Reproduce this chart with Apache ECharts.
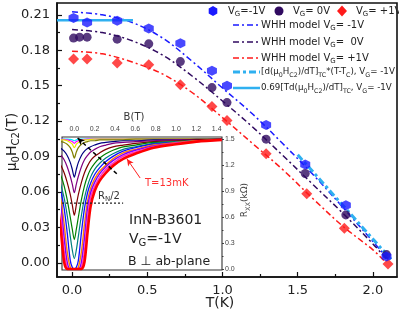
<!DOCTYPE html>
<html><head><meta charset="utf-8">
<script src="https://cdn.jsdelivr.net/npm/echarts@6/dist/echarts.min.js"></script>
<style>html,body{margin:0;padding:0;background:#fff}#c{width:399px;height:318px}</style>
</head><body><div id="c"></div>
<script>
// ---------- main panel data ----------
const blueT   = [0.01, 0.10, 0.30, 0.51, 0.72, 0.93, 1.03, 1.29, 1.55, 1.82, 2.09];
const blueH   = [0.2072, 0.2035, 0.2049, 0.1984, 0.1860, 0.1626, 0.1500, 0.1168, 0.0832, 0.0487, 0.0053];
const purpleT = [0.01, 0.05, 0.10, 0.30, 0.51, 0.72, 0.93, 1.03, 1.29, 1.55, 1.82, 2.09];
const purpleH = [0.1903, 0.1911, 0.1911, 0.1894, 0.1854, 0.1704, 0.1484, 0.1357, 0.1047, 0.0756, 0.0406, 0.0070];
const redT    = [0.01, 0.10, 0.30, 0.51, 0.72, 0.93, 1.03, 1.29, 1.56, 1.81, 2.10];
const redH    = [0.1725, 0.1725, 0.1691, 0.1677, 0.1507, 0.1323, 0.1205, 0.0923, 0.0584, 0.0292, -0.0010];

const whhBlueT   = [0.0, 0.2, 0.4, 0.6, 0.8, 1.0, 1.2, 1.4, 1.6, 1.8, 2.0, 2.11];
const whhBlueH   = [0.2125, 0.2100, 0.2035, 0.1905, 0.1705, 0.1480, 0.1260, 0.1010, 0.0750, 0.0470, 0.0180, 0.0020];
const whhPurpleT = [0.0, 0.2, 0.4, 0.6, 0.8, 1.0, 1.2, 1.4, 1.6, 1.8, 2.0, 2.10];
const whhPurpleH = [0.1975, 0.1950, 0.1880, 0.1760, 0.1580, 0.1370, 0.1150, 0.0910, 0.0665, 0.0420, 0.0160, 0.0020];
const whhRedT    = [0.0, 0.2, 0.4, 0.6, 0.8, 1.0, 1.2, 1.4, 1.6, 1.8, 2.0, 2.08];
const whhRedH    = [0.1792, 0.1770, 0.1700, 0.1600, 0.1440, 0.1230, 0.1010, 0.0790, 0.0545, 0.0310, 0.0110, 0.0010];

const slopeT = [1.50, 2.12];
const slopeH = [0.0915, 0.0030];
const flatT  = [-0.10, 0.405];
const flatH  = [0.2055, 0.2055];

const xTicks = [0, 0.5, 1.0, 1.5, 2.0];
const xMinor = [0.25, 0.75, 1.25, 1.75];
const yTicks = [0, 0.03, 0.06, 0.09, 0.12, 0.15, 0.18, 0.21];
const yMinor = [0.015, 0.045, 0.075, 0.105, 0.135, 0.165, 0.195];

// ---------- inset data ----------
const insetB = [-0.16,-0.13,-0.10,-0.07,-0.04,-0.02,0,0.02,0.04,0.07,0.10,0.13,0.16,0.20,0.25,0.31,0.38,0.48,0.60,0.78,1.00,1.20,1.45];
const rCyan    = [1.50,1.50,1.50,1.50,1.495,1.49,1.48,1.49,1.495,1.50,1.50,1.50,1.50,1.50,1.50,1.50,1.50,1.50,1.50,1.50,1.50,1.50,1.50];
const rMagenta = [1.50,1.50,1.495,1.49,1.48,1.47,1.45,1.47,1.48,1.49,1.495,1.50,1.50,1.50,1.50,1.50,1.50,1.50,1.50,1.50,1.50,1.50,1.50];
const rYellow  = [1.495,1.49,1.49,1.48,1.46,1.44,1.40,1.44,1.46,1.48,1.49,1.49,1.495,1.50,1.50,1.50,1.50,1.50,1.50,1.50,1.50,1.50,1.50];
const rOlive   = [1.48,1.47,1.46,1.44,1.40,1.35,1.28,1.35,1.40,1.44,1.46,1.47,1.48,1.48,1.49,1.49,1.49,1.49,1.50,1.50,1.50,1.50,1.50];
const rNavy    = [1.41,1.39,1.36,1.31,1.23,1.15,1.06,1.15,1.23,1.31,1.36,1.39,1.41,1.43,1.45,1.46,1.47,1.48,1.48,1.49,1.49,1.495,1.50];
const rPurple  = [1.35,1.31,1.26,1.18,1.07,0.98,0.88,0.98,1.07,1.18,1.26,1.31,1.35,1.38,1.41,1.43,1.45,1.46,1.47,1.48,1.49,1.49,1.495];
const rWine    = [1.25,1.19,1.11,1.00,0.86,0.74,0.62,0.74,0.86,1.00,1.11,1.19,1.25,1.30,1.34,1.38,1.41,1.43,1.45,1.47,1.48,1.49,1.495];
const rGreen   = [1.15,1.07,0.96,0.80,0.60,0.46,0.34,0.46,0.60,0.80,0.96,1.07,1.15,1.22,1.28,1.33,1.37,1.41,1.43,1.46,1.47,1.48,1.49];
const rTeal    = [1.06,0.96,0.82,0.62,0.38,0.22,0.12,0.22,0.38,0.62,0.82,0.96,1.06,1.15,1.22,1.28,1.33,1.38,1.41,1.45,1.47,1.48,1.49];
const rBlue    = [0.99,0.88,0.70,0.42,0.10,0.02,0,0.02,0.10,0.42,0.70,0.88,0.99,1.09,1.17,1.24,1.30,1.36,1.40,1.44,1.46,1.48,1.49];
const rOrange  = [0.93,0.78,0.52,0.20,0.02,0,0,0,0.02,0.20,0.52,0.78,0.93,1.04,1.13,1.20,1.27,1.34,1.38,1.43,1.46,1.48,1.49];
const rViolet  = [0.88,0.70,0.36,0.08,0,0,0,0,0,0.08,0.36,0.70,0.88,1.00,1.10,1.18,1.25,1.32,1.37,1.42,1.45,1.47,1.49];
const rPink    = [0.82,0.58,0.20,0.02,0,0,0,0,0,0.02,0.20,0.58,0.82,0.95,1.06,1.15,1.22,1.30,1.35,1.41,1.45,1.47,1.49];
const rRed     = [0.72,0.42,0.08,0,0,0,0,0,0,0,0.08,0.42,0.72,0.90,1.02,1.11,1.19,1.27,1.33,1.40,1.44,1.47,1.49];

const rnHalfB = [-0.121, 0.48];
const rnHalfR = [0.76, 0.76];
const guideB  = [0.033, 0.43];
const guideR  = [1.511, 1.085];
const arrowB  = [0.518, 0.647];
const arrowR  = [1.27, 1.05];

const bTicks = [0, 0.2, 0.4, 0.6, 0.8, 1.0, 1.2, 1.4];
const rTicks = [0, 0.3, 0.6, 0.9, 1.2, 1.5];
const rMinor = [0.15, 0.45, 0.75, 1.05, 1.35];

// ---------- build ----------
const F = 'DejaVu Sans';
const zip = (a, b) => a.map((v, i) => [v, b[i]]);
const chart = echarts.init(document.getElementById('c'), null, {renderer: 'canvas'});

const dashDot = [6, 3, 2, 3];
const LB = '#2fb0f0';
const hex = 'path://M0,-10 L8.66,-5 L8.66,5 L0,10 L-8.66,5 L-8.66,-5 Z';

const insetCurves = [
  [rCyan, '#00e8ff', 1.2], [rMagenta, '#ff00ff', 1.2], [rYellow, '#e8e800', 1.2],
  [rOlive, '#808000', 1.2], [rNavy, '#000080', 1.2], [rPurple, '#800080', 1.2],
  [rWine, '#800000', 1.2], [rGreen, '#008000', 1.2], [rTeal, '#008080', 1.2],
  [rBlue, '#1010ff', 1.3], [rOrange, '#ff8000', 1.4], [rViolet, '#8000ff', 1.5],
  [rPink, '#ff30c0', 1.6], [rRed, '#ff0000', 2.6]
];

const series = [];
const mainLine = (x, y, color, width, type) => ({
  type: 'line', xAxisIndex: 0, yAxisIndex: 0, data: zip(x, y), smooth: 0.35,
  showSymbol: false, symbol: 'none', z: 3, silent: true,
  lineStyle: {color, width, type}
});
series.push(mainLine(whhBlueT, whhBlueH, '#1a1aff', 1.5, dashDot));
series.push(mainLine(whhPurpleT, whhPurpleH, '#300a60', 1.5, dashDot));
series.push(mainLine(whhRedT, whhRedH, '#ff1a1a', 1.5, dashDot));
series.push(mainLine(slopeT, slopeH, LB, 3, [7, 3, 3, 3]));
series.push(mainLine(flatT, flatH, LB, 2.5, 'solid'));

const scat = (x, y, color, symbol, size) => ({
  type: 'scatter', xAxisIndex: 0, yAxisIndex: 0, data: zip(x, y), symbol, symbolSize: size,
  itemStyle: {color}, z: 5, silent: true
});
series.push(scat(redT, redH, '#ff1a1a', 'diamond', 11));
series.push(scat(purpleT, purpleH, '#300a60', 'circle', 9));
series.push(scat(blueT, blueH, '#1a1aff', hex, 10));

insetCurves.forEach(([arr, color, w]) => {
  series.push({type: 'line', xAxisIndex: 2, yAxisIndex: 2, data: zip(insetB, arr), smooth: 0.3,
    showSymbol: false, symbol: 'none', z: 6, silent: true, lineStyle: {color, width: w}});
});
series.push({type: 'line', xAxisIndex: 2, yAxisIndex: 2, data: zip(rnHalfB, rnHalfR), showSymbol: false, symbol: 'none',
  z: 7, silent: true, lineStyle: {color: '#222', width: 1.3, type: [2, 2]}});
const gd = zip(guideB, guideR);
series.push({type: 'line', xAxisIndex: 2, yAxisIndex: 2, z: 8, silent: true,
  data: [{value: gd[0], symbol: 'arrow', symbolSize: [5, 7], symbolRotate: 47}, {value: gd[1], symbol: 'none'}],
  showSymbol: true, itemStyle: {color: '#000'}, lineStyle: {color: '#000', width: 1.5, type: [4, 3]}});
const ad = zip(arrowB, arrowR);
series.push({type: 'line', xAxisIndex: 2, yAxisIndex: 2, z: 8, silent: true,
  data: [{value: ad[0], symbol: 'arrow', symbolSize: [5, 7], symbolRotate: 34}, {value: ad[1], symbol: 'none'}],
  showSymbol: true, itemStyle: {color: '#ff2020'}, lineStyle: {color: '#ff2020', width: 1}});

const rich = (fs, ss, col) => ({
  n: {fontSize: fs, lineHeight: fs + 4, fontFamily: F, fill: col},
  s: {fontSize: ss, lineHeight: ss, verticalAlign: 'bottom', fontFamily: F, fill: col}
});
const rtext = (x, y, text, fs, ss, col, extra) => Object.assign({
  type: 'text', x, y, z: 20, silent: true,
  style: {text, rich: rich(fs, ss, col), align: 'left', verticalAlign: 'middle'}
}, extra || {});

const graphic = [
  // legend row 1
  {type: 'polygon', z: 20, shape: {points: [[213,6],[217.3,8.5],[217.3,13.5],[213,16],[208.7,13.5],[208.7,8.5]]}, style: {fill: '#1a1aff'}},
  rtext(228, 11, '{n|V}{s|G}{n|=-1V}', 10, 7, '#222'),
  {type: 'circle', z: 20, shape: {cx: 279, cy: 11, r: 4.5}, style: {fill: '#300a60'}},
  rtext(293, 11, '{n|V}{s|G}{n|= 0V}', 10, 7, '#222'),
  {type: 'polygon', z: 20, shape: {points: [[342,5.5],[347,11],[342,16.5],[337,11]]}, style: {fill: '#ff1a1a'}},
  rtext(356, 11, '{n|V}{s|G}{n|= +1V}', 10, 7, '#222'),
  // legend lines
  {type: 'line', z: 20, shape: {x1: 233, y1: 25, x2: 260, y2: 25}, style: {stroke: '#1a1aff', lineWidth: 1.5, lineDash: dashDot}},
  rtext(261, 25, '{n|WHH model V}{s|G}{n|= -1V}', 10, 7, '#222'),
  {type: 'line', z: 20, shape: {x1: 233, y1: 42, x2: 260, y2: 42}, style: {stroke: '#300a60', lineWidth: 1.5, lineDash: dashDot}},
  rtext(261, 42, '{n|WHH model V}{s|G}{n|=  0V}', 10, 7, '#222'),
  {type: 'line', z: 20, shape: {x1: 233, y1: 58, x2: 260, y2: 58}, style: {stroke: '#ff1a1a', lineWidth: 1.5, lineDash: dashDot}},
  rtext(261, 58, '{n|WHH model V}{s|G}{n|= +1V}', 10, 7, '#222'),
  {type: 'line', z: 20, shape: {x1: 233, y1: 72, x2: 260, y2: 72}, style: {stroke: LB, lineWidth: 3, lineDash: [7, 3, 3, 3]}},
  rtext(261, 72, '{n|[d(μ}{s|0}{n|H}{s|C2}{n|)/dT]}{s|TC}{n|*(T-T}{s|C}{n|), V}{s|G}{n|= -1V}', 8.7, 6.3, '#222'),
  {type: 'line', z: 20, shape: {x1: 233, y1: 88, x2: 260, y2: 88}, style: {stroke: LB, lineWidth: 2.5}},
  rtext(261, 88, '{n|0.69[Td(μ}{s|0}{n|H}{s|C2}{n|)/dT]}{s|TC}{n|, V}{s|G}{n|= -1V}', 8.7, 6.3, '#222'),
  // axis titles
  {type: 'text', x: 220, y: 303, z: 20, style: {text: 'T(K)', font: '14px ' + F, fill: '#222', align: 'center', verticalAlign: 'middle'}},
  {type: 'text', x: 12, y: 142, z: 20, rotation: Math.PI / 2,
    style: {text: '{n|μ}{s|0}{n|H}{s|C2}{n|(T)}', rich: rich(14, 10, '#222'), align: 'center', verticalAlign: 'middle'}},
  {type: 'text', x: 134, y: 117, z: 20, style: {text: 'B(T)', font: '10px ' + F, fill: '#333', align: 'center', verticalAlign: 'middle'}},
  {type: 'text', x: 245, y: 200, z: 20, rotation: Math.PI / 2,
    style: {text: '{n|R}{s|XX}{n|(kΩ)}', rich: rich(9, 6.5, '#444'), align: 'center', verticalAlign: 'middle'}},
  // inset annotations
  rtext(98, 196, '{n|R}{s|N}{n|/2}', 10, 7, '#333'),
  {type: 'text', x: 145, y: 183, z: 20, style: {text: 'T=13mK', font: '10px ' + F, fill: '#ff3030', align: 'left', verticalAlign: 'middle'}},
  {type: 'text', x: 129, y: 220, z: 20, style: {text: 'InN-B3601', font: '14px ' + F, fill: '#222', align: 'left', verticalAlign: 'middle'}},
  rtext(129, 239, '{n|V}{s|G}{n|=-1V}', 14, 10, '#222'),
  {type: 'text', x: 128, y: 262, z: 20, style: {text: 'B ⊥ ab-plane', font: '12.5px ' + F, fill: '#222', align: 'left', verticalAlign: 'middle'}}
];

const hidden = {show: false};
const option = {
  animation: false,
  backgroundColor: '#fff',
  grid: [
    {left: 57, top: 3, width: 340, height: 274, show: true, borderColor: '#111', borderWidth: 1.6, backgroundColor: 'transparent'},
    {left: 62, top: 137, width: 160, height: 133, show: true, borderColor: '#333', borderWidth: 1.1, backgroundColor: '#fff', z: 1}
  ],
  xAxis: [
    {gridIndex: 0, type: 'value', position: 'bottom', min: -0.1, max: 2.16, splitLine: hidden,
      axisLine: {show: true, onZero: false, lineStyle: {color: '#111', width: 1.6}},
      axisTick: {inside: true, length: 5, customValues: xTicks, lineStyle: {color: '#111', width: 1.2}},
      axisLabel: {customValues: xTicks, formatter: v => v.toFixed(1), fontSize: 13, fontFamily: F, color: '#222', margin: 7}},
    {gridIndex: 0, type: 'value', position: 'bottom', min: -0.1, max: 2.16, splitLine: hidden,
      axisLine: {show: false, onZero: false},
      axisTick: {inside: true, length: 3, customValues: xMinor, lineStyle: {color: '#111', width: 1.2}},
      axisLabel: hidden},
    {gridIndex: 1, type: 'value', position: 'top', min: -0.121, max: 1.452, splitLine: hidden,
      axisLine: {show: false, onZero: false},
      axisTick: {inside: true, length: 2, customValues: bTicks, lineStyle: {color: '#444', width: 1}},
      axisLabel: {customValues: bTicks, formatter: v => v.toFixed(1), fontSize: 7, fontFamily: 'Liberation Sans', color: '#444', margin: 4}}
  ],
  yAxis: [
    {gridIndex: 0, type: 'value', position: 'left', min: -0.012, max: 0.22, splitLine: hidden,
      axisLine: {show: true, onZero: false, lineStyle: {color: '#111', width: 1.6}},
      axisTick: {inside: true, length: 5, customValues: yTicks, lineStyle: {color: '#111', width: 1.2}},
      axisLabel: {customValues: yTicks, formatter: v => v.toFixed(2), fontSize: 13, fontFamily: F, color: '#222', margin: 7}},
    {gridIndex: 0, type: 'value', position: 'left', min: -0.012, max: 0.22, splitLine: hidden,
      axisLine: {show: false, onZero: false},
      axisTick: {inside: true, length: 3, customValues: yMinor, lineStyle: {color: '#111', width: 1.2}},
      axisLabel: hidden},
    {gridIndex: 1, type: 'value', position: 'right', min: -0.0115, max: 1.523, splitLine: hidden,
      axisLine: {show: false, onZero: false},
      axisTick: {inside: false, length: 2, customValues: rTicks, lineStyle: {color: '#444', width: 1}},
      axisLabel: {customValues: rTicks, formatter: v => v.toFixed(1), fontSize: 7, fontFamily: 'Liberation Sans', color: '#444', margin: 3}},
    {gridIndex: 1, type: 'value', position: 'right', min: -0.0115, max: 1.523, splitLine: hidden,
      axisLine: {show: false, onZero: false},
      axisTick: {inside: false, length: 1.5, customValues: rMinor, lineStyle: {color: '#444', width: 1}},
      axisLabel: hidden}
  ],
  series,
  graphic
};
chart.setOption(option);
</script>
</body></html>
